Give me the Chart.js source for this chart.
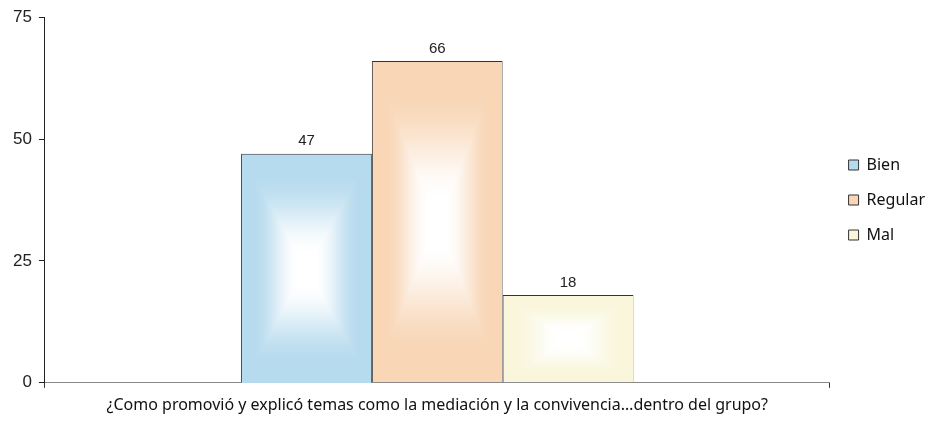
<!DOCTYPE html>
<html>
<head>
<meta charset="utf-8">
<script src="https://cdn.jsdelivr.net/npm/chart.js@4/dist/chart.umd.min.js"></script>
<style>
  html, body { margin: 0; padding: 0; background: #fff; }
  #wrap { width: 939px; height: 424px; }
</style>
</head>
<body>
<div id="wrap"><canvas id="chart" width="939" height="424"></canvas></div>
<script>
const categories = ['¿Como promovió y explicó temas como la mediación y la convivencia…dentro del grupo?'];
const seriesNames = ['Bien', 'Regular', 'Mal'];
const seriesValues = [[47], [66], [18]];
const seriesColors = [[183, 219, 238], [248, 214, 182], [249, 246, 220]];
const yTicks = [0, 25, 50, 75];

const rgb = (c) => `rgb(${c[0]}, ${c[1]}, ${c[2]})`;

// rectangular "from centre" gradient, like the office chart fill
const boxFill = (w, h, c) => {
  const cv = document.createElement('canvas');
  cv.width = Math.max(1, w);
  cv.height = Math.max(1, h);
  const g = cv.getContext('2d');
  const img = g.createImageData(cv.width, cv.height);
  for (let y = 0; y < cv.height; y++) {
    for (let x = 0; x < cv.width; x++) {
      const dx = Math.abs(x + 0.5 - cv.width / 2) / (cv.width / 2);
      const dy = Math.abs(y + 0.5 - cv.height / 2) / (cv.height / 2);
      let t = (Math.max(dx, dy) - 0.12) / 0.7;
      t = Math.min(1, Math.max(0, t));
      t = t * t * (3 - 2 * t);
      const i = (y * cv.width + x) * 4;
      img.data[i] = 255 + (c[0] - 255) * t;
      img.data[i + 1] = 255 + (c[1] - 255) * t;
      img.data[i + 2] = 255 + (c[2] - 255) * t;
      img.data[i + 3] = 255;
    }
  }
  g.putImageData(img, 0, 0);
  return cv;
};

const barExtras = {
  id: 'barExtras',
  afterDatasetsDraw(chart) {
    const ctx = chart.ctx;
    ctx.save();
    chart.data.datasets.forEach((ds, di) => {
      const meta = chart.getDatasetMeta(di);
      meta.data.forEach((el, i) => {
        const { x, y, base, width } = el.getProps(['x', 'y', 'base', 'width'], true);
        const left = Math.round(x - width / 2) + 1;
        const top = Math.round(Math.min(y, base)) + 1;
        const w = Math.round(width) - 2;
        const h = Math.round(Math.abs(base - y)) - 1;
        if (w > 0 && h > 0) ctx.drawImage(boxFill(w, h, seriesColors[di]), left, top);
        ctx.fillStyle = '#222';
        ctx.font = '15px "Liberation Sans", Arial, sans-serif';
        ctx.textAlign = 'center';
        ctx.textBaseline = 'bottom';
        ctx.fillText(ds.data[i], x, Math.min(y, base) - 5);
      });
    });
    ctx.restore();
  }
};

const datasets = seriesNames.map((name, i) => ({
  label: name,
  data: seriesValues[i],
  backgroundColor: rgb(seriesColors[i]),
  borderColor: '#333',
  borderWidth: 1,
  barPercentage: 1,
  categoryPercentage: 0.5
}));

new Chart(document.getElementById('chart'), {
  type: 'bar',
  data: { labels: categories, datasets: datasets },
  options: {
    responsive: false,
    animation: false,
    layout: { padding: { left: 6, right: 4, top: 13, bottom: 1 } },
    plugins: {
      tooltip: { enabled: false },
      legend: {
        position: 'right',
        fullSize: false,
        labels: {
          boxWidth: 10,
          boxHeight: 10,
          padding: 19,
          color: '#111',
          font: { family: '"Noto Sans", sans-serif', size: 16 }
        }
      }
    },
    scales: {
      x: {
        grid: { display: true, drawOnChartArea: false, tickLength: 5, color: '#333' },
        border: { display: true, color: '#888' },
        ticks: {
          padding: 8,
          color: '#111',
          font: { family: '"Noto Sans", sans-serif', size: 16 }
        }
      },
      y: {
        min: 0,
        max: 75,
        afterBuildTicks: (axis) => { axis.ticks = yTicks.map(v => ({ value: v })); },
        grid: { display: true, drawOnChartArea: false, tickLength: 6, color: '#222' },
        border: { display: true, color: '#222' },
        ticks: {
          padding: 7,
          color: '#222',
          font: { family: '"Liberation Sans", Arial, sans-serif', size: 17 }
        }
      }
    }
  },
  plugins: [barExtras]
});
</script>
</body>
</html>
